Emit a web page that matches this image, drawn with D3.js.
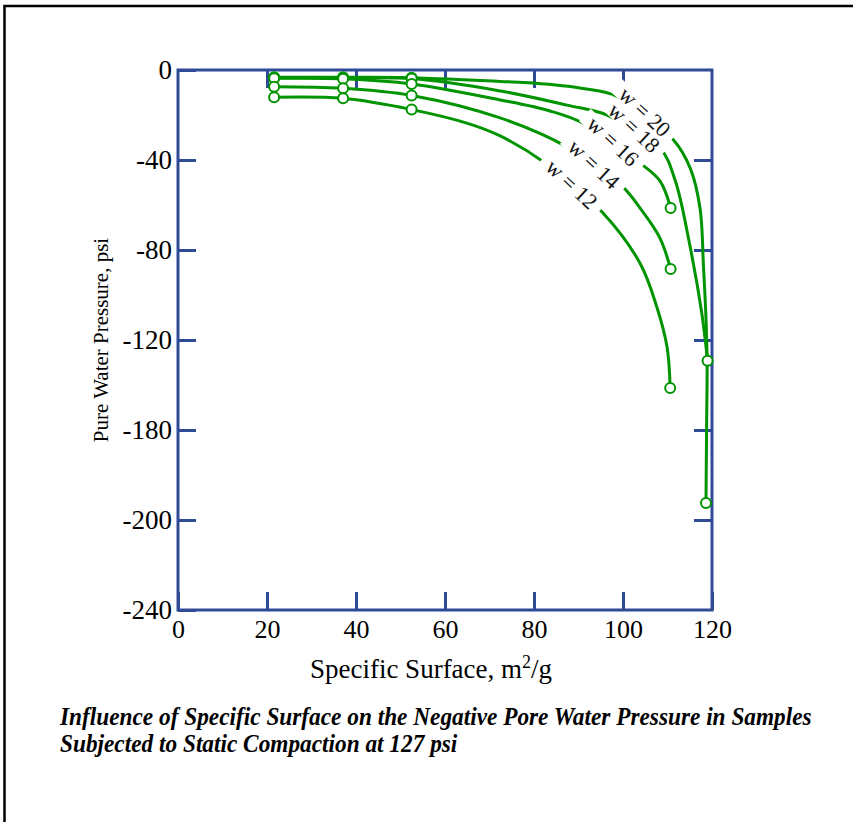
<!DOCTYPE html>
<html>
<head>
<meta charset="utf-8">
<script src="https://cdn.jsdelivr.net/npm/d3@7"></script>
<style>
  body { margin: 0; background: #fff; }
  svg { display: block; }
</style>
</head>
<body>
<svg id="chart" width="853" height="822"></svg>
<script>
// Axis ticks and their printed labels
const xTicks = [0, 20, 40, 60, 80, 100, 120];
const yTicks = [0, -40, -80, -120, -160, -200, -240];
const yTickLabels = ["0", "-40", "-80", "-120", "-180", "-200", "-240"];

// Curve names (water content, %)
const seriesNames = ["w = 20", "w = 18", "w = 16", "w = 14", "w = 12"];

// Curve traces: [specific surface m²/g, pore water pressure psi]
const w20Curve = [[21.6, -3.2], [37.1, -3.2], [52.5, -3.4], [72.4, -5.1], [79.8, -5.8], [91.0, -8.2], [98.7, -11.7],
                  [111.3, -31.0], [115.1, -43.6], [117.3, -61.3], [118.1, -88.0], [118.6, -108.0], [118.9, -128.9],
                  [118.8, -155.6], [118.65, -192.4]];
const w18Curve = [[21.6, -3.4], [37.1, -3.5], [52.5, -3.8], [72.4, -9.3], [87.4, -15.6], [96.4, -20.0],
                  [108.3, -34.7], [111.7, -48.9], [115.1, -78.7], [117.7, -108.0], [119.0, -129.2]];
const w16Curve = [[21.6, -3.7], [37.1, -3.9], [52.5, -6.2], [72.4, -13.3], [83.6, -18.2], [91.0, -23.6],
                  [103.8, -41.3], [108.3, -49.3], [110.7, -61.3]];
const w14Curve = [[21.6, -7.4], [37.1, -8.1], [52.5, -11.3], [72.4, -21.3], [87.4, -34.2],
                  [99.8, -51.6], [103.8, -61.3], [108.3, -74.7], [110.7, -88.4]];
const w12Curve = [[21.6, -12.1], [37.1, -12.6], [52.5, -17.6], [64.9, -23.6], [72.4, -29.3], [82.5, -41.3],
                  [95.3, -63.1], [103.8, -85.8], [107.6, -105.3], [109.9, -123.1], [110.6, -141.3]];

// Measured samples (open circles)
const w20Samples = [[21.6, -3.2], [37.1, -3.2], [52.5, -3.4], [118.65, -192.4]];
const w18Samples = [[21.6, -3.4], [37.1, -3.5], [52.5, -3.8], [119.0, -129.2]];
const w16Samples = [[21.6, -3.7], [37.1, -3.9], [52.5, -6.2], [110.7, -61.3]];
const w14Samples = [[21.6, -7.4], [37.1, -8.1], [52.5, -11.3], [110.7, -88.4]];
const w12Samples = [[21.6, -12.1], [37.1, -12.6], [52.5, -17.6], [110.6, -141.3]];

// Where each curve name is written, in data units
const labelAt = [[104.9, -18.5], [102.5, -25.6], [97.8, -31.6], [93.5, -41.8], [88.5, -50.7]];

const curves = [w20Curve, w18Curve, w16Curve, w14Curve, w12Curve];
const samples = [w20Samples, w18Samples, w16Samples, w14Samples, w12Samples];

const AXIS = "#2f4b97";
const GREEN = "#009400";
const SERIF = "'Liberation Serif', 'Times New Roman', serif";

const svg = d3.select("#chart");

// Outer frame of the figure
svg.append("rect")
  .attr("x", 4.5).attr("y", 6).attr("width", 900).attr("height", 900)
  .attr("fill", "none").attr("stroke", "#000").attr("stroke-width", 2.5);

const pLeft = 178, pRight = 712, pTop = 70, pBottom = 610;
const x = d3.scaleLinear().domain([0, 120]).range([pLeft, pRight]);
const y = d3.scaleLinear().domain([-240, 0]).range([pBottom, pTop]);

// Axes with inward ticks on all four sides
const tickLen = 18;
function styleAxis(size) {
  return g => {
    g.select(".domain").remove();
    g.selectAll(".tick line").attr("stroke", AXIS).attr("stroke-width", 3);
    g.selectAll(".tick text").attr("fill", "#000").style("font-family", SERIF).style("font-size", size + "px");
  };
}
svg.append("g").attr("transform", `translate(0,${pBottom})`)
  .call(d3.axisBottom(x).tickValues(xTicks).tickSizeInner(-tickLen).tickSizeOuter(0).tickPadding(10).tickFormat(d3.format("d")))
  .call(styleAxis(26));
svg.append("g").attr("transform", `translate(0,${pTop})`)
  .call(d3.axisTop(x).tickValues(xTicks.slice(1, -1)).tickSizeInner(-tickLen).tickSizeOuter(0).tickFormat(""))
  .call(styleAxis(26));
svg.append("g").attr("transform", `translate(${pLeft},0)`)
  .call(d3.axisLeft(y).tickValues(yTicks).tickSizeInner(-tickLen).tickSizeOuter(0).tickPadding(6)
    .tickFormat((d, i) => yTickLabels[i]))
  .call(styleAxis(27));
svg.append("g").attr("transform", `translate(${pRight},0)`)
  .call(d3.axisRight(y).tickValues(yTicks.slice(1, -1)).tickSizeInner(-tickLen).tickSizeOuter(0).tickFormat(""))
  .call(styleAxis(26));

// Plot frame
svg.append("rect")
  .attr("x", pLeft).attr("y", pTop).attr("width", pRight - pLeft).attr("height", pBottom - pTop)
  .attr("fill", "none").attr("stroke", AXIS).attr("stroke-width", 3);

// Curves
const line = d3.line().x(d => x(d[0])).y(d => y(d[1])).curve(d3.curveCatmullRom.alpha(0.5));
const curveG = svg.append("g");
curves.forEach(c => {
  curveG.append("path").attr("d", line(c))
    .attr("fill", "none").attr("stroke", GREEN).attr("stroke-width", 3);
});

// Curve names, each on a white patch that breaks its line
const patchG = svg.append("g");
const nameG = svg.append("g");
labelAt.forEach((p, i) => {
  const tf = `translate(${x(p[0])},${y(p[1])}) rotate(43)`;
  const t = nameG.append("text").attr("transform", tf)
    .attr("text-anchor", "middle").attr("dy", "0.35em")
    .style("font-family", SERIF).style("font-size", "22px").attr("fill", "#111")
    .text(seriesNames[i]);
  const bb = t.node().getBBox();
  patchG.append("rect").attr("transform", tf)
    .attr("x", bb.x - 8).attr("y", bb.y + 4).attr("width", bb.width + 16).attr("height", bb.height - 8)
    .attr("fill", "#fff");
});

// Sample markers
const markG = svg.append("g");
samples.forEach(s => {
  markG.selectAll(null).data(s).enter().append("circle")
    .attr("cx", d => x(d[0])).attr("cy", d => y(d[1])).attr("r", 5)
    .attr("fill", "#fff").attr("stroke", GREEN).attr("stroke-width", 2);
});

// Axis titles
const xt = svg.append("text")
  .attr("x", (pLeft + pRight) / 2 - 14).attr("y", 678).attr("text-anchor", "middle")
  .style("font-family", SERIF).style("font-size", "27px").attr("fill", "#000");
xt.append("tspan").text("Specific Surface, m");
xt.append("tspan").attr("dy", -10).style("font-size", "18px").text("2");
xt.append("tspan").attr("dy", 10).text("/g");

svg.append("text")
  .attr("transform", `translate(108,${(pTop + pBottom) / 2}) rotate(-90)`)
  .attr("text-anchor", "middle")
  .style("font-family", SERIF).style("font-size", "21px").attr("fill", "#000")
  .text("Pure Water Pressure, psi");

// Caption
const cap = svg.append("g");
const cap1 = cap.append("text").attr("y", 725)
  .style("font-family", SERIF).style("font-size", "25px").style("font-weight", "bold").style("font-style", "italic")
  .text("Influence of Specific Surface on the Negative Pore Water Pressure in Samples");
cap.append("text").attr("y", 752)
  .style("font-family", SERIF).style("font-size", "25px").style("font-weight", "bold").style("font-style", "italic")
  .text("Subjected to Static Compaction at 127 psi");
const sx = 752 / cap1.node().getComputedTextLength();
cap.attr("transform", `translate(60,0) scale(${sx},1)`);
</script>
</body>
</html>
